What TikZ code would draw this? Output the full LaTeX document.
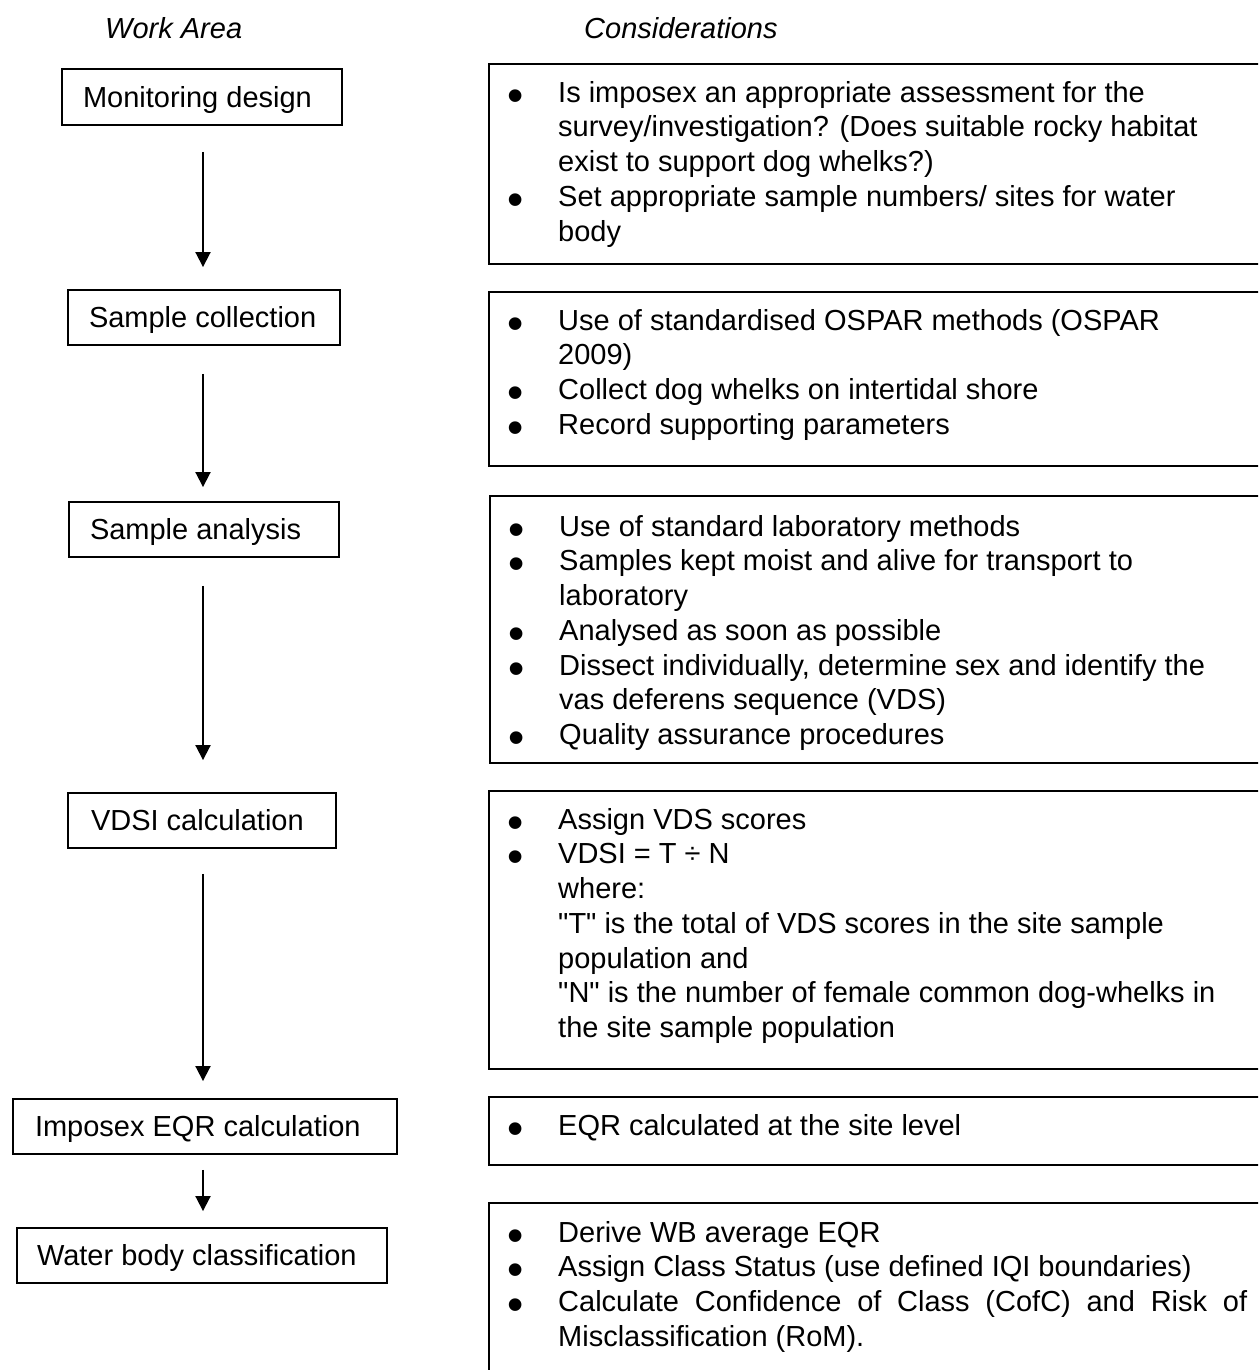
\documentclass[tikz,border=0pt]{standalone}
\usepackage{fontspec}
\setmainfont{Liberation Sans}
\usetikzlibrary{arrows.meta}
\newcommand\fsz{\fontsize{29}{34.7}\selectfont}
\newcommand\mybul{\llap{\makebox[0pt]{\smash{\raisebox{-9pt}{\scalebox{1.6}{\textbullet}}}}\hspace{43pt}}}
\newcommand\firstln{\rule{0pt}{25pt}}
\newcommand\qq{\textquotedbl}
\begin{document}
\begin{tikzpicture}[x=1pt,y=-1pt,
  box/.style={draw, line width=1.9pt, inner sep=0pt},
  lbox/.style={box, inner xsep=21pt, text height=20.8pt, text depth=0pt, font=\fsz},
  rbox/.style={box, anchor=north west, minimum width=900pt},
  rtext/.style={anchor=north west, inner sep=0pt, align=left, font=\fsz},
  head/.style={anchor=base west, inner sep=0pt, font=\fsz\itshape},
  arr/.style={line width=1.9pt, -{Triangle[length=15pt,width=15pt]}}]
\useasboundingbox (0,0) rectangle (1258,1370);
\clip (0,0) rectangle (1258,1370);

% headers
\node[head] (h1) at (105,39) {Work Area};
\node[head] (h2) at (584,39) {Considerations};

% left column
\node[lbox, minimum width=280pt, minimum height=56pt] (L1) at (202,97) {\makebox[238pt][l]{Monitoring design}};
\node[lbox, minimum width=272pt, minimum height=55pt] (L2) at (204,317.5) {\makebox[230pt][l]{Sample collection}};
\node[lbox, minimum width=270pt, minimum height=55pt] (L3) at (204,529.5) {\makebox[228pt][l]{Sample analysis}};
\node[lbox, inner xsep=23pt, minimum width=268pt, minimum height=55pt] (L4) at (202,820.5) {\makebox[222pt][l]{VDSI calculation}};
\node[lbox, inner xsep=22pt, minimum width=384pt, minimum height=55pt] (L5) at (205,1126.5) {\makebox[340pt][l]{Imposex EQR calculation}};
\node[lbox, inner xsep=20pt, minimum width=370pt, minimum height=55pt] (L6) at (202,1255.5) {\makebox[330pt][l]{Water body classification}};

% arrows
\coordinate (ax) at (203,0);
\draw[arr, shorten <=26pt, shorten >=22pt] (L1.south -| ax) -- (L2.north -| ax);
\draw[arr, shorten <=28pt, shorten >=14pt] (L2.south -| ax) -- (L3.north -| ax);
\draw[arr, shorten <=28pt, shorten >=32pt] (L3.south -| ax) -- (L4.north -| ax);
\draw[arr, shorten <=25pt, shorten >=17pt] (L4.south -| ax) -- (L5.north -| ax);
\draw[arr, shorten <=15pt, shorten >=16pt] (L5.south -| ax) -- (L6.north -| ax);

% right column boxes
\node[rbox, minimum height=200pt] (R1) at (488,63) {};
\node[rbox, minimum height=174pt] (R2) at (488,291) {};
\node[rbox, minimum height=267pt] (R3) at (489,495) {};
\node[rbox, minimum height=278pt] (R4) at (488,790) {};
\node[rbox, minimum height=68pt] (R5) at (488,1096) {};
\node[rbox, minimum height=260pt] (R6) at (488,1202) {};

% right column texts
\node[rtext] (T1) at (558,77) {\firstln\mybul Is imposex an appropriate assessment for the\\
survey/investigation? (Does suitable rocky habitat\\
exist to support dog whelks?)\\
\mybul Set appropriate sample numbers/ sites for water\\
body};

\node[rtext] (T2) at (558,305) {\firstln\mybul Use of standardised OSPAR methods (OSPAR\\
2009)\\
\mybul Collect dog whelks on intertidal shore\\
\mybul Record supporting parameters};

\node[rtext] (T3) at (559,511) {\firstln\mybul Use of standard laboratory methods\\
\mybul Samples kept moist and alive for transport to\\
laboratory\\
\mybul Analysed as soon as possible\\
\mybul Dissect individually, determine sex and identify the\\
vas deferens sequence (VDS)\\
\mybul Quality assurance procedures};

\node[rtext] (T4) at (558,804) {\firstln\mybul Assign VDS scores\\
\mybul VDSI = T ÷ N\\
where:\\
\qq T\qq{} is the total of VDS scores in the site sample\\
population and\\
\qq N\qq{} is the number of female common dog-whelks in\\
the site sample population};

\node[rtext] (T5) at (558,1110) {\firstln\mybul EQR calculated at the site level};

\node[rtext] (T6) at (558,1217) {\firstln\mybul Derive WB average EQR\\
\mybul Assign Class Status (use defined IQI boundaries)\\
\mybul \makebox[689pt][s]{Calculate Confidence of Class (CofC) and Risk of}\\
Misclassification (RoM).};
\end{tikzpicture}
\end{document}
